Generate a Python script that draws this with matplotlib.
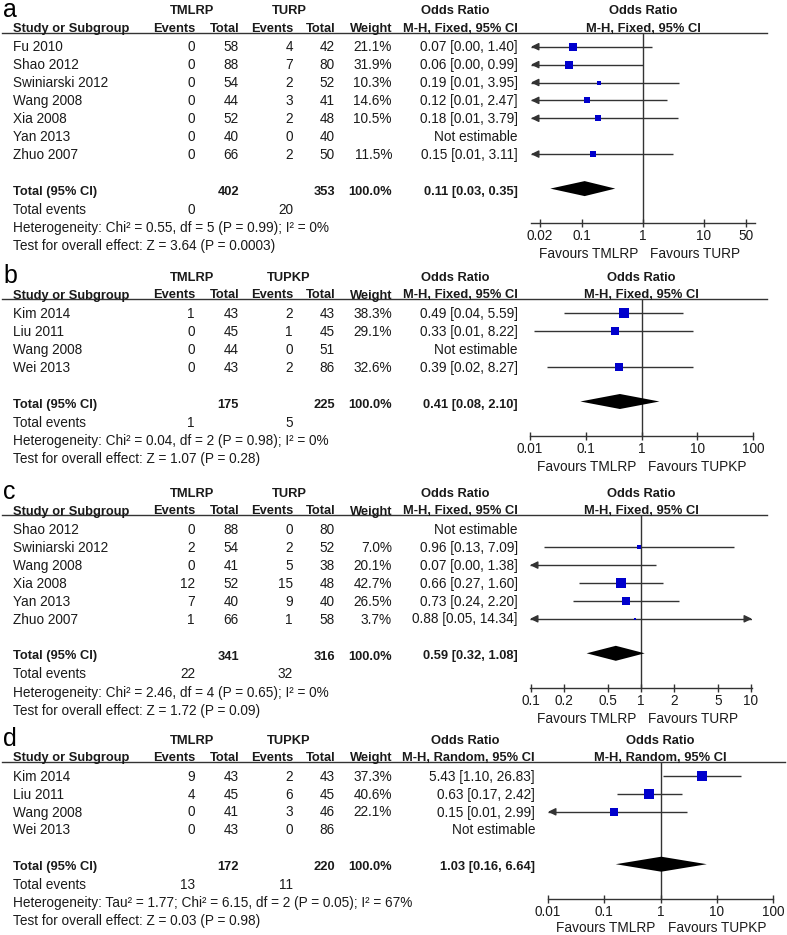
import numpy as np
import matplotlib
matplotlib.use("Agg")
import matplotlib.pyplot as plt
from matplotlib.ticker import NullLocator
from matplotlib.transforms import blended_transform_factory

W, H = 787, 935
plt.rcParams["font.family"] = ["Liberation Sans", "DejaVu Sans"]
FS = 9.8      # regular text
FSB = 9.3     # bold header / total text
INK = "#1a1a1a"
LINE = "#333333"
SQ = "#0000CC"
nan = np.nan

# ---------------------------------------------------------------- panel a: TMLRP vs TURP
studies_a = ["Fu 2010", "Shao 2012", "Swiniarski 2012", "Wang 2008", "Xia 2008", "Yan 2013", "Zhuo 2007"]
ev1_a = [0, 0, 0, 0, 0, 0, 0]
tot1_a = [58, 88, 54, 44, 52, 40, 66]
ev2_a = [4, 7, 2, 3, 2, 0, 2]
tot2_a = [42, 80, 52, 41, 48, 40, 50]
weight_a = [21.1, 31.9, 10.3, 14.6, 10.5, nan, 11.5]
or_a = [0.07, 0.06, 0.19, 0.12, 0.18, nan, 0.15]
lo_a = [0.0, 0.0, 0.01, 0.01, 0.01, nan, 0.01]
hi_a = [1.40, 0.99, 3.95, 2.47, 3.79, nan, 3.11]
pooled_a = [0.11, 0.03, 0.35]
totals_a = [402, 353]
events_a = [0, 20]
ticks_a = [0.02, 0.1, 1, 10, 50]

# ---------------------------------------------------------------- panel b: TMLRP vs TUPKP
studies_b = ["Kim 2014", "Liu 2011", "Wang 2008", "Wei 2013"]
ev1_b = [1, 0, 0, 0]
tot1_b = [43, 45, 44, 43]
ev2_b = [2, 1, 0, 2]
tot2_b = [43, 45, 51, 86]
weight_b = [38.3, 29.1, nan, 32.6]
or_b = [0.49, 0.33, nan, 0.39]
lo_b = [0.04, 0.012, nan, 0.02]
hi_b = [5.59, 8.22, nan, 8.27]
pooled_b = [0.41, 0.08, 2.10]
totals_b = [175, 225]
events_b = [1, 5]
ticks_b = [0.01, 0.1, 1, 10, 100]

# ---------------------------------------------------------------- panel c: TMLRP vs TURP
studies_c = ["Shao 2012", "Swiniarski 2012", "Wang 2008", "Xia 2008", "Yan 2013", "Zhuo 2007"]
ev1_c = [0, 2, 0, 12, 7, 1]
tot1_c = [88, 54, 41, 52, 40, 66]
ev2_c = [0, 2, 5, 15, 9, 1]
tot2_c = [80, 52, 38, 48, 40, 58]
weight_c = [nan, 7.0, 20.1, 42.7, 26.5, 3.7]
or_c = [nan, 0.96, 0.07, 0.66, 0.73, 0.88]
lo_c = [nan, 0.13, 0.0, 0.27, 0.24, 0.05]
hi_c = [nan, 7.09, 1.38, 1.60, 2.20, 14.34]
pooled_c = [0.59, 0.32, 1.08]
totals_c = [341, 316]
events_c = [22, 32]
ticks_c = [0.1, 0.2, 0.5, 1, 2, 5, 10]

# ---------------------------------------------------------------- panel d: TMLRP vs TUPKP (random)
studies_d = ["Kim 2014", "Liu 2011", "Wang 2008", "Wei 2013"]
ev1_d = [9, 4, 0, 0]
tot1_d = [43, 45, 41, 43]
ev2_d = [2, 6, 3, 0]
tot2_d = [43, 45, 46, 86]
weight_d = [37.3, 40.6, 22.1, nan]
or_d = [5.43, 0.63, 0.15, nan]
lo_d = [1.10, 0.17, 0.0075, nan]
hi_d = [26.83, 2.42, 2.99, nan]
pooled_d = [1.03, 0.16, 6.64]
totals_d = [172, 220]
events_d = [13, 11]
ticks_d = [0.01, 0.1, 1, 10, 100]

fig = plt.figure(figsize=(W / 100, H / 100), dpi=100)
bg = fig.add_axes([0, 0, 1, 1])
bg.set_xlim(0, W); bg.set_ylim(H, 0); bg.axis("off")

X_STUDY, X_EV1, X_TOT1, X_EV2, X_TOT2, X_W = 13, 195, 239, 293, 335, 392


def T(x, y, s, ha="right", bold=False):
    bg.text(x, y + 4.7, s, ha=ha, va="baseline", fontsize=FSB if bold else FS, color=INK,
            fontweight="bold" if bold else "normal")


def panel(letter, y0, studies, ev1, tot1, ev2, tot2, weight, orr, lo, hi, pooled, totals, events,
          het, test, arm2, method, ticks, xlim, fx0, fw, x_ci, x_or, line_end, fav_dy=30.5):
    rows = [y0 + 17.9 * i for i in range(len(studies))]
    ty = rows[-1] + 36
    axy = ty + 33
    line_y = y0 - 14

    bg.text(3, y0 - 30, letter, fontsize=18, va="baseline", color="black")
    # table header
    T(192, y0 - 37, "TMLRP", ha="center", bold=True)
    T(289, y0 - 37, arm2, ha="center", bold=True)
    T(x_or, y0 - 37, "Odds Ratio", ha="center", bold=True)
    T(X_STUDY, y0 - 19.5, "Study or Subgroup", ha="left", bold=True)
    for x, s in [(X_EV1, "Events"), (X_TOT1, "Total"), (X_EV2, "Events"), (X_TOT2, "Total"),
                 (X_W, "Weight"), (x_ci, method)]:
        T(x, y0 - 19.5, s, bold=True)
    bg.plot([2, line_end], [line_y, line_y], color=LINE, lw=1)

    # forest axes
    ax = fig.add_axes([fx0 / W, 1 - axy / H, fw / W, (axy - line_y) / H])
    ax.set_xscale("log")
    ax.set_xlim(xlim); ax.set_ylim(axy, line_y)
    ax.patch.set_alpha(0)
    for s in ["top", "left", "right"]:
        ax.spines[s].set_visible(False)
    ax.spines["bottom"].set_color(LINE)
    ax.spines["bottom"].set_linewidth(1)
    ax.set_yticks([])
    ax.set_xticks(ticks)
    ax.set_xticklabels([f"{t:g}" for t in ticks])
    ax.xaxis.set_minor_locator(NullLocator())
    ax.tick_params(axis="x", direction="inout", length=6, width=1, color=LINE,
                   labelsize=FS, labelcolor=INK, pad=1.5)
    ax.axvline(1, color=LINE, lw=1)

    tr = blended_transform_factory(ax.transData, bg.transData)

    def F(s, y, dx=0, ha="center", bold=False):
        bg.annotate(s, xy=(1, y + 4.7), xycoords=tr, xytext=(dx, 0), textcoords="offset pixels",
                    ha=ha, va="baseline", fontsize=FSB if bold else FS, color=INK,
                    fontweight="bold" if bold else "normal")

    F("Odds Ratio", y0 - 37, bold=True)
    F(method, y0 - 19.5, bold=True)
    F("Favours TMLRP", axy + fav_dy, dx=-5, ha="right")
    F("Favours " + arm2, axy + fav_dy, dx=7, ha="left")

    arrow = dict(arrowstyle="-|>,head_length=0.45,head_width=0.22", color=LINE, lw=1,
                 shrinkA=0, shrinkB=0)
    for i, y in enumerate(rows):
        T(X_STUDY, y, studies[i], ha="left")
        T(X_EV1, y, str(ev1[i])); T(X_TOT1, y, str(tot1[i]))
        T(X_EV2, y, str(ev2[i])); T(X_TOT2, y, str(tot2[i]))
        if np.isnan(orr[i]):
            T(x_ci, y, "Not estimable")
            continue
        T(X_W, y, f"{weight[i]:.1f}%")
        T(x_ci, y, f"{orr[i]:.2f} [{lo[i]:.2f}, {hi[i]:.2f}]")
        a, b = max(lo[i], xlim[0]), min(hi[i], xlim[1])
        ax.plot([a, b], [y, y], color=LINE, lw=1, solid_capstyle="butt")
        if lo[i] < xlim[0]:
            ax.annotate("", xy=(xlim[0], y), xytext=(7, 0), textcoords="offset pixels",
                        arrowprops=arrow, annotation_clip=False)
        if hi[i] > xlim[1]:
            ax.annotate("", xy=(xlim[1], y), xytext=(-7, 0), textcoords="offset pixels",
                        arrowprops=arrow, annotation_clip=False)
        ax.plot(orr[i], y, "s", ms=1.55 * np.sqrt(weight[i]) * 0.72, color=SQ, mew=0, zorder=3)

    # totals
    T(X_STUDY, ty, "Total (95% CI)", ha="left", bold=True)
    T(X_TOT1, ty, str(totals[0]), bold=True)
    T(X_TOT2, ty, str(totals[1]), bold=True)
    T(X_W, ty, "100.0%", bold=True)
    T(x_ci, ty, f"{pooled[0]:.2f} [{pooled[1]:.2f}, {pooled[2]:.2f}]", bold=True)
    dy = ty - 1.5
    ax.fill([pooled[1], pooled[0], pooled[2], pooled[0]], [dy, dy - 7.5, dy, dy + 7.5],
            color="black", lw=0, zorder=3)
    T(X_STUDY, ty + 19, "Total events", ha="left")
    T(X_EV1, ty + 19, str(events[0]))
    T(X_EV2, ty + 19, str(events[1]))
    T(X_STUDY, ty + 37, het, ha="left")
    T(X_STUDY, ty + 55, test, ha="left")


panel("a", 46.7, studies_a, ev1_a, tot1_a, ev2_a, tot2_a, weight_a, or_a, lo_a, hi_a, pooled_a,
      totals_a, events_a, "Heterogeneity: Chi² = 0.55, df = 5 (P = 0.99); I² = 0%",
      "Test for overall effect: Z = 3.64 (P = 0.0003)", "TURP", "M-H, Fixed, 95% CI",
      ticks_a, (10 ** -1.84, 10 ** 1.84), 531, 224, 518, 455, 767)
panel("b", 313.3, studies_b, ev1_b, tot1_b, ev2_b, tot2_b, weight_b, or_b, lo_b, hi_b, pooled_b,
      totals_b, events_b, "Heterogeneity: Chi² = 0.04, df = 2 (P = 0.98); I² = 0%",
      "Test for overall effect: Z = 1.07 (P = 0.28)", "TUPKP", "M-H, Fixed, 95% CI",
      ticks_b, (0.01, 100), 530, 223, 518, 455, 767)
panel("c", 529.3, studies_c, ev1_c, tot1_c, ev2_c, tot2_c, weight_c, or_c, lo_c, hi_c, pooled_c,
      totals_c, events_c, "Heterogeneity: Chi² = 2.46, df = 4 (P = 0.65); I² = 0%",
      "Test for overall effect: Z = 1.72 (P = 0.09)", "TURP", "M-H, Fixed, 95% CI",
      ticks_c, (10 ** -1.01, 10 ** 1.01), 530, 222, 518, 455, 767)
panel("d", 776, studies_d, ev1_d, tot1_d, ev2_d, tot2_d, weight_d, or_d, lo_d, hi_d, pooled_d,
      totals_d, events_d, "Heterogeneity: Tau² = 1.77; Chi² = 6.15, df = 2 (P = 0.05); I² = 67%",
      "Test for overall effect: Z = 0.03 (P = 0.98)", "TUPKP", "M-H, Random, 95% CI",
      ticks_d, (0.01, 100), 548, 225, 535, 465, 785, fav_dy=28.3)

fig.savefig("out.png", dpi=100)
